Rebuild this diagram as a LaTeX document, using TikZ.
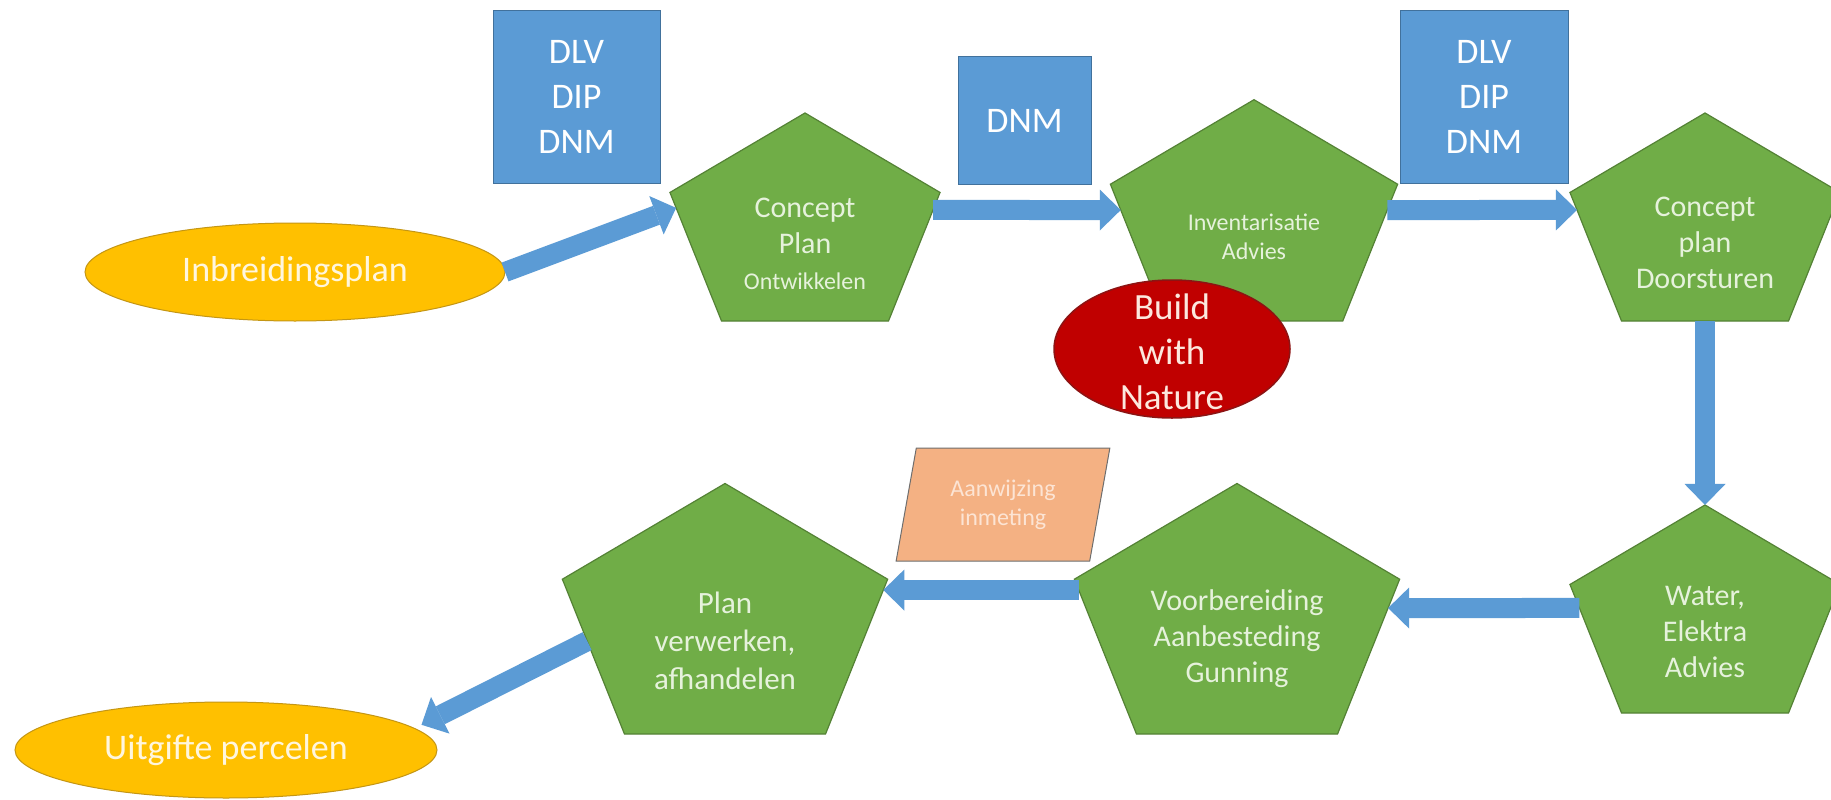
\documentclass[tikz,border=0pt]{standalone}
\usepackage{fontspec}
\setmainfont{Carlito}
\usepackage{tikz}
\usetikzlibrary{arrows.meta}
\usetikzlibrary{shapes.geometric}
\usetikzlibrary{calc}
\usepackage{xcolor}
\definecolor{ColStep}{RGB}{112,173,71}
\definecolor{ColStepD}{RGB}{84,130,53}
\definecolor{ColStepT}{RGB}{230,242,220}
\definecolor{ColFlow}{RGB}{91,155,213}
\definecolor{ColFlowD}{RGB}{65,113,156}
\definecolor{ColEnd}{RGB}{255,192,0}
\definecolor{ColEndD}{RGB}{196,150,20}
\definecolor{ColEndT}{RGB}{255,246,222}
\definecolor{ColBwn}{RGB}{192,0,0}
\definecolor{ColBwnD}{RGB}{140,20,20}
\definecolor{ColBwnT}{RGB}{252,232,222}
\definecolor{ColNote}{RGB}{244,177,131}
\definecolor{ColNoteD}{RGB}{110,110,110}
\definecolor{ColNoteT}{RGB}{252,228,212}
\tikzstyle{NodeStep}=[regular polygon,regular polygon sides=5,draw=ColStepD,fill=ColStep,
line width=1.2pt,inner sep=0pt,outer sep=0pt,yscale=0.81,transform shape]
\tikzstyle{TextStep}=[align=center,text=ColStepT,font=\fontsize{30}{36}\selectfont]
\tikzstyle{NodeEnd}=[ellipse,draw=ColEndD,fill=ColEnd,line width=1pt,inner sep=0pt,outer sep=0pt,
minimum width=420pt,minimum height=98pt,text=ColEndT,font=\fontsize{36}{44}\selectfont]
\tikzstyle{NodeDept}=[rectangle,draw=ColFlowD,fill=ColFlow,line width=1pt,align=center,text=white,
font=\fontsize{36}{45}\selectfont]
\tikzstyle{EdgeFlow}=[ColFlow,line width=20pt,-{Triangle[width=41pt,length=21pt,line width=0pt]}]

\begin{document}
\begin{tikzpicture}[x=1pt,y=-1pt]
        \path[use as bounding box,fill=white](0,0)rectangle(1831,800);
        \node[NodeDept,minimum width=167pt,minimum height=172pt](dlvA)at(576.5,97){DLV\\DIP\\DNM};
        \node[NodeDept,minimum width=133pt,minimum height=127pt](dnm)at(1024.5,120.5){DNM};
        \node[NodeDept,minimum width=168pt,minimum height=172pt](dlvB)at(1484,97){DLV\\DIP\\DNM};
        \node[NodeEnd](inb)at(295,272){Inbreidingsplan};
        \node[NodeEnd,minimum width=422pt,minimum height=96pt](uit)at(226,750){Uitgifte percelen};
        \node[NodeStep,minimum size=284pt](p1)at(805,228){};
        \node[NodeStep,minimum size=302pt](p2)at(1254,222){};
        \node[NodeStep,minimum size=284pt](p3)at(1705,228){};
        \node[NodeStep,minimum size=284pt](p4)at(1705,620){};
        \node[NodeStep,minimum size=342pt](p5)at(1237,622){};
        \node[NodeStep,minimum size=342pt](p6)at(725,622){};
        \node[TextStep](p1t)at(805,244){Concept\\Plan\\{\fontsize{24}{29}\selectfont Ontwikkelen}};
        \node[TextStep,font=\fontsize{24}{29}\selectfont](p2t)at(1254,237){Inventarisatie\\Advies};
        \node[TextStep](p3t)at(1705,243){Concept\\plan\\Doorsturen};
        \node[TextStep](p4t)at(1705,632){Water,\\Elektra\\Advies};
        \node[TextStep](p5t)at(1237,639){Voorbereiding\\Aanbesteding\\Gunning};
        \node[TextStep,font=\fontsize{31}{38}\selectfont](p6t)at(725,641){Plan\\verwerken,\\afhandelen};
        \node[ellipse,draw=ColBwnD,fill=ColBwn,line width=1.5pt,inner sep=0pt,
            minimum width=236pt,minimum height=138pt](bwn)at(1172,349){};
        \node[align=center,text=ColBwnT,font=\fontsize{37}{45}\selectfont](bwnt)at(1172,352){Build\\with\\Nature};
        \node[trapezium,trapezium left angle=77,trapezium right angle=103,trapezium stretches=true,
            draw=ColNoteD,fill=ColNote,line width=1pt,minimum width=214pt,minimum height=113pt,
            align=center,text=ColNoteT,font=\fontsize{24}{29}\selectfont](aan)at(1003,504.5){Aanwijzing\\inmeting};
        \draw[EdgeFlow](inb.east)--($(p1.corner 2)!.12!(p1.corner 3)$);
        \draw[EdgeFlow]($(p1.corner 5)!.136!(p1.corner 4)$)--($(p2.corner 2)!.189!(p2.corner 3)$);
        \draw[EdgeFlow]($(p2.corner 5)!.189!(p2.corner 4)$)--($(p3.corner 2)!.136!(p3.corner 3)$);
        \draw[EdgeFlow](p3.south)--(p4.north);
        \draw[EdgeFlow]($(p4.corner 2)!.183!(p4.corner 3)$)--($(p5.corner 5)!.186!(p5.corner 4)$);
        \draw[EdgeFlow]($(p5.corner 2)!.07!(p5.corner 3)$)--($(p6.corner 5)!.07!(p6.corner 4)$);
        \draw[EdgeFlow]($(p6.corner 2)!.4!(p6.corner 3)$)--([xshift=16pt]uit.8);
    \end{tikzpicture}
\end{document}
